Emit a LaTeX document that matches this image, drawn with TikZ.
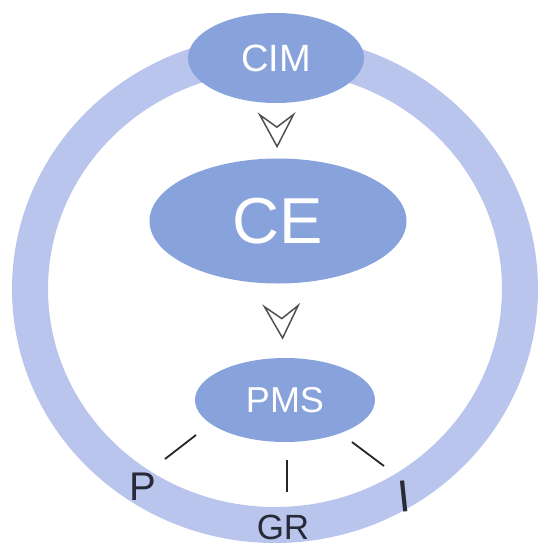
\documentclass[tikz,border=0pt]{standalone}
\usepackage{fontspec}
\setmainfont{Liberation Sans}
\usetikzlibrary{shapes.geometric,arrows.meta,decorations.markings}

\definecolor{ringblue}{RGB}{185,197,236}
\definecolor{nodeblue}{RGB}{136,162,220}
\definecolor{inkgray}{RGB}{80,80,80}
\definecolor{labelink}{RGB}{40,42,55}

\tikzset{
  stage/.style={ellipse, fill=nodeblue, text=white, inner sep=0pt},
  flowarrow/.style={
    decoration={markings, mark=at position #1 with
      {\arrow[inkgray, line width=1.5pt]{Stealth[open, length=36pt, width=38pt, inset=14pt]}}},
    postaction={decorate}},
  tickline/.style={draw=black!85, line width=1.8pt},
  ringlabel/.style={text=labelink, inner sep=0pt},
}

\begin{document}
\begin{tikzpicture}[x=1pt,y=-1pt]
  \useasboundingbox (0,0) rectangle (539,543);
  \clip (0,0) rectangle (539,543);

  % outer ring
  \draw[ringblue, line width=36pt] (275,289) ellipse [x radius=245, y radius=236];

  % stages
  \node[stage, minimum width=176pt, minimum height=90pt, font=\fontsize{38}{38}\selectfont] (cim) at (276,58) {CIM};
  \node[stage, minimum width=257pt, minimum height=125pt, font=\fontsize{65}{65}\selectfont] (ce) at (278,221) {CE};
  \node[stage, minimum width=180pt, minimum height=84pt, font=\fontsize{36}{36}\selectfont] (pms) at (285,400) {PMS};

  % flow between stages
  \path[flowarrow=45pt] (cim) -- (ce);
  \path[flowarrow=56pt] (ce) -- (pms);

  % labels on the ring
  \node[ringlabel, font=\fontsize{40}{40}\selectfont] (plabel) at (143,487) {P};
  \node[ringlabel, font=\fontsize{35}{35}\selectfont] (grlabel) at (283,527) {GR};
  \node[ringlabel, font=\fontsize{45}{45}\selectfont, rotate=6] (ilabel) at (404,496) {I};

  % ticks from PMS towards the labels
  \coordinate (p1) at (196,435);
  \coordinate (p2) at (165,459);
  \coordinate (g1) at (287,460);
  \coordinate (g2) at (287,492);
  \coordinate (i1) at (352,442);
  \coordinate (i2) at (384,466);
  \draw[tickline] (p1) -- (p2);
  \draw[tickline] (g1) -- (g2);
  \draw[tickline] (i1) -- (i2);
\end{tikzpicture}
\end{document}
